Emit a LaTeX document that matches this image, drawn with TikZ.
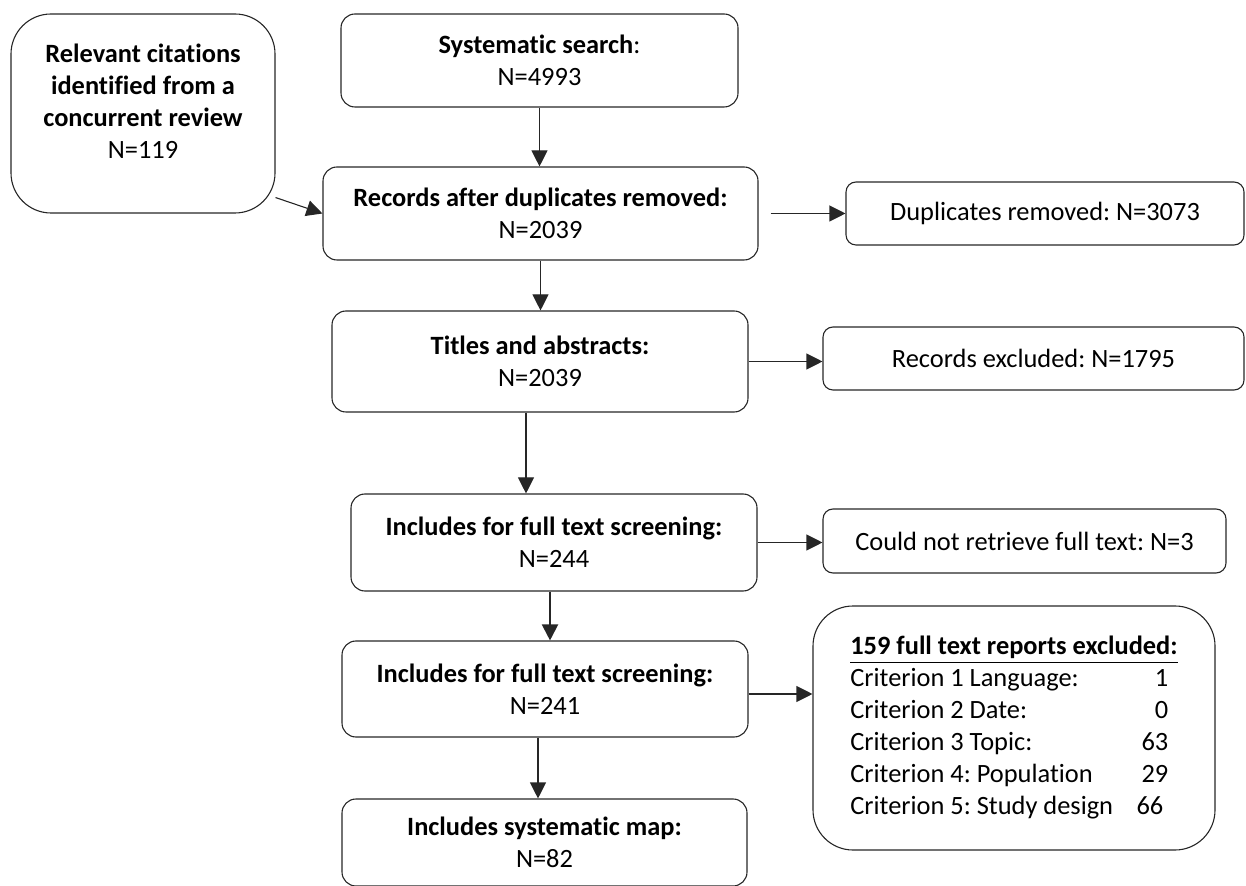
\documentclass[tikz,border=0pt]{standalone}
\usepackage{fontspec}
\setmainfont{Carlito}[Ligatures=NoCommon]
\usetikzlibrary{arrows.meta}
\frenchspacing
\newcommand{\critline}[2]{\makebox[146pt][l]{#1}\makebox[13pt][r]{#2}}
\begin{document}
\begin{tikzpicture}[x=0.5pt,y=-0.5pt,
    mainbox/.style={draw=black!85, line width=0.55pt, rounded corners=7pt, inner sep=0pt, align=center,
      font=\fontsize{13.2}{16}\selectfont},
    sidebox/.style={mainbox, rounded corners=5pt},
    roundbox/.style={mainbox, rounded corners=20pt},
    arr/.style={draw=black!85, line width=0.55pt, -{Triangle[length=8pt,width=8pt]}}]
   % Cadre (taille de l'image)
   \useasboundingbox (0,0) rectangle (1246,886);

   % Boites principales
   \node[roundbox, minimum width=132pt, minimum height=99.5pt, text depth=12pt] (concur) at (143,113.5)
      {\textbf{Relevant citations}\\\textbf{identified from a}\\\textbf{concurrent review}\\N=119};
   \node[mainbox, minimum width=198.5pt, minimum height=46.5pt] (search) at (539.5,60.5)
      {\textbf{Systematic search}:\\N=4993};
   \node[mainbox, minimum width=217.5pt, minimum height=46.5pt] (dedup) at (540.5,213.5)
      {\textbf{Records after duplicates removed:}\\N=2039};
   \node[mainbox, minimum width=208pt, minimum height=50.5pt] (titles) at (540,361.5)
      {\textbf{Titles and abstracts:}\\N=2039};
   \node[mainbox, minimum width=203pt, minimum height=48.5pt] (fulla) at (554,542.5)
      {\textbf{Includes for full text screening:}\\N=244};
   \node[mainbox, minimum width=203pt, minimum height=48pt] (fullb) at (545,689)
      {\textbf{Includes for full text screening:}\\N=241};
   \node[mainbox, minimum width=202.5pt, minimum height=43.5pt] (smap) at (544.5,842.5)
      {\textbf{Includes systematic map:}\\N=82};

   % Boites d'exclusion (a droite)
   \node[sidebox, minimum width=199pt, minimum height=31.5pt] (dupl) at (1045,213.5)
      {Duplicates removed: N=3073};
   \node[sidebox, minimum width=210.5pt, minimum height=31.5pt] (recex) at (1033.5,358.5)
      {Records excluded: N=1795};
   \node[sidebox, minimum width=201.5pt, minimum height=32pt] (noret) at (1024.5,541)
      {Could not retrieve full text: N=3};
   \node[roundbox, minimum width=201pt, minimum height=122pt, align=left] (crit) at (1014,728)
      {\underline{\textbf{159 full text reports excluded:}}\\
       \critline{Criterion 1 Language:}{1}\\
       \critline{Criterion 2 Date:}{0}\\
       \critline{Criterion 3 Topic:}{63}\\
       \critline{Criterion 4: Population}{29}\\
       \critline{Criterion 5: Study design}{66\hspace{2.5pt}}};

   % Fleches
   \draw[arr] ([yshift=8pt]concur.south east) -- (dedup.west);
   \draw[arr] (search.south) -- (search.south |- dedup.north);
   \draw[arr] ([xshift=6pt]dedup.east) -- (dupl.west);
   \draw[arr] (dedup.south) -- (dedup.south |- titles.north);
   \draw[arr] (titles.east) -- (titles.east -| recex.west);
   \draw[arr] ([xshift=-7pt]titles.south) -- ([xshift=-7pt]titles.south |- fulla.north);
   \draw[arr] (fulla.east) -- (fulla.east -| noret.west);
   \draw[arr, line width=1pt] ([xshift=-2pt]fulla.south) -- ([xshift=-2pt]fulla.south |- fullb.north);
   \draw[arr] ([xshift=-3.5pt]fullb.south) -- ([xshift=-3.5pt]fullb.south |- smap.north);
   \draw[arr] ([yshift=-2.5pt]fullb.east) -- ([yshift=-2.5pt]fullb.east -| crit.west);
\end{tikzpicture}
\end{document}
